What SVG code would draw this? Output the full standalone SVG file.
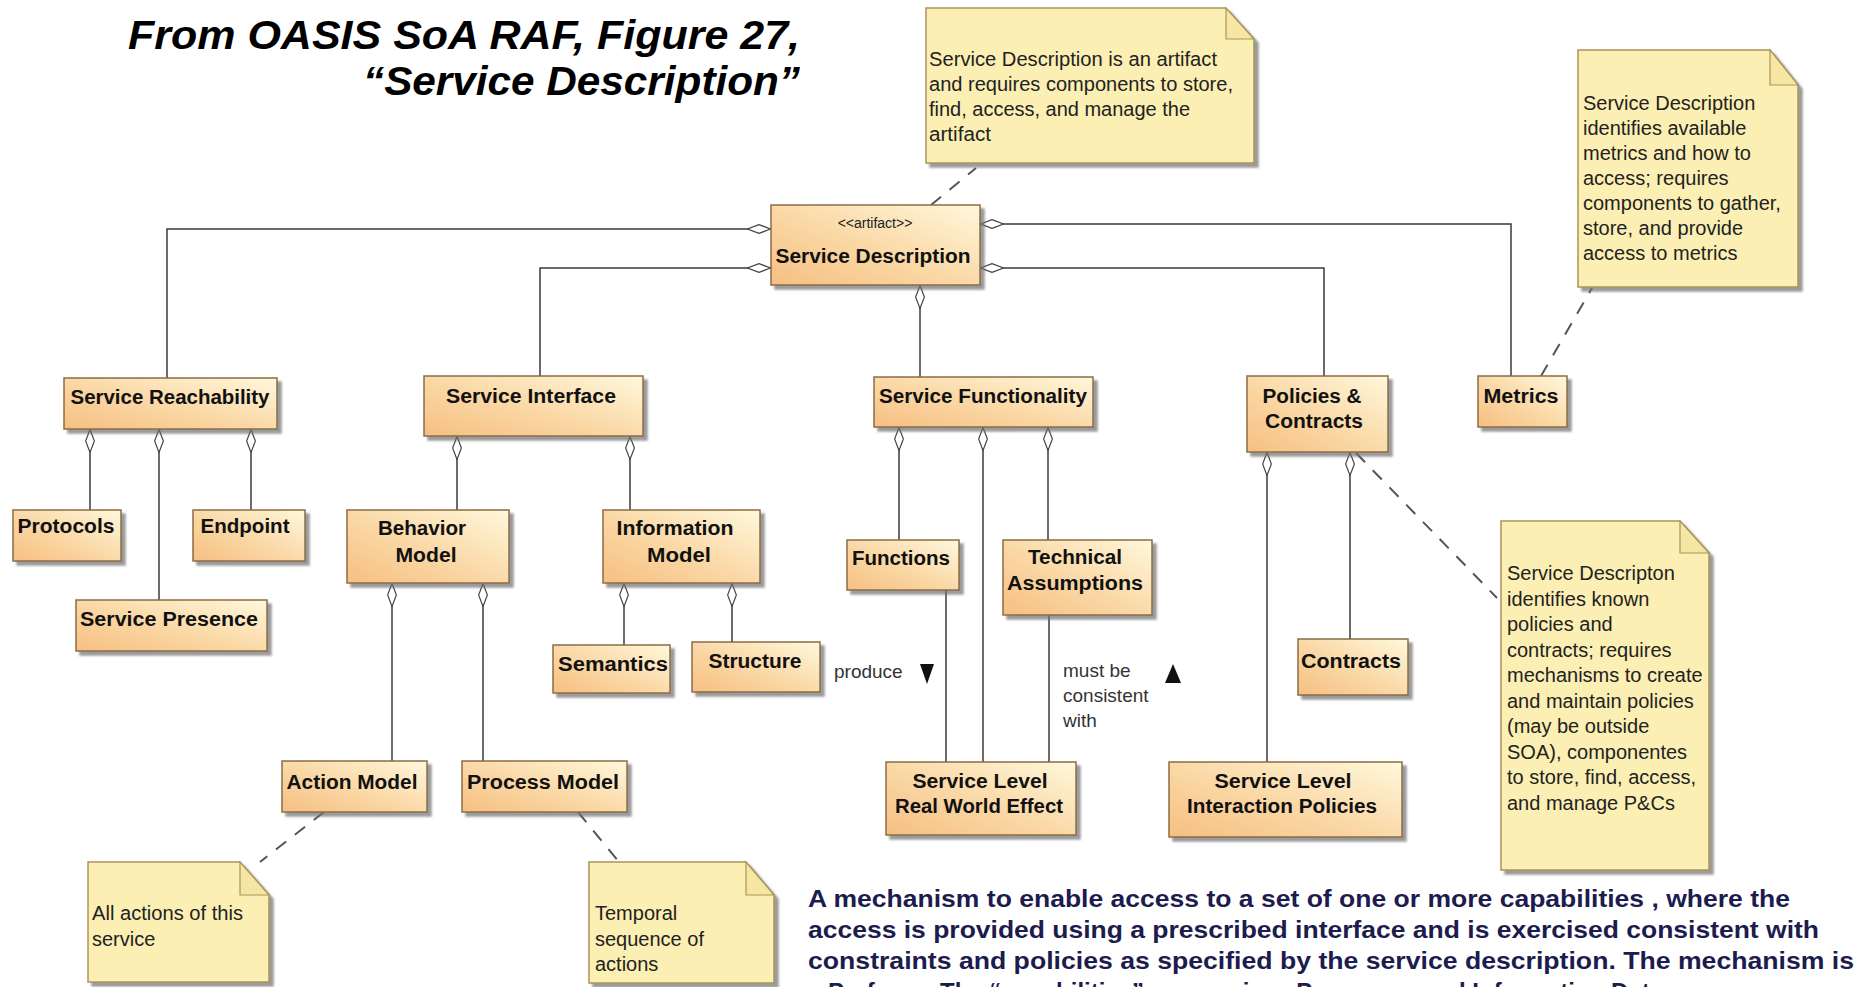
<svg xmlns="http://www.w3.org/2000/svg" width="1866" height="987" viewBox="0 0 1866 987">
  <style>
    .box { fill: url(#boxFill); stroke: #8a6c45; stroke-width: 1.5; filter: url(#shadow); }
    .note { fill: #fcefb3; stroke: #a8955a; stroke-width: 1.5; filter: url(#shadow); }
    .fold { fill: #f6e6a4; stroke: #a8955a; stroke-width: 1.2; }
    .lbl { font-family: "Liberation Sans", Arial, sans-serif; font-weight: bold; font-size: 20px; fill: #111; text-anchor: middle; }
    .stereo { font-family: "Liberation Sans", Arial, sans-serif; font-size: 14px; fill: #222; text-anchor: middle; }
    .ntxt { font-family: "Liberation Sans", Arial, sans-serif; font-size: 20px; fill: #222; }
    .rel { font-family: "Liberation Sans", Arial, sans-serif; font-size: 19px; fill: #333; }
    .title { font-family: "Liberation Sans", Arial, sans-serif; font-weight: bold; font-style: italic; font-size: 41px; fill: #000; text-anchor: end; }
    .para { font-family: "Liberation Sans", Arial, sans-serif; font-weight: bold; font-size: 24px; fill: #1c1c4e; }
    .link { fill: none; stroke: #3a3a3a; stroke-width: 1.5; }
    .agg { marker-start: url(#diamond); }
    .anchor { fill: none; stroke: #555; stroke-width: 2; stroke-dasharray: 13 11; }
  </style>
  <defs>
    <linearGradient id="boxFill" x1="0" y1="1" x2="1" y2="0">
      <stop offset="0" stop-color="#f6bf82"/>
      <stop offset="0.45" stop-color="#fad7a4"/>
      <stop offset="1" stop-color="#fff8dc"/>
    </linearGradient>
    <filter id="shadow" x="-10%" y="-10%" width="130%" height="140%">
      <feDropShadow dx="4" dy="4" stdDeviation="1.2" flood-color="#6f6f6f" flood-opacity="0.7"/>
    </filter>
    <marker id="diamond" viewBox="0 0 24 10" refX="0" refY="5" markerWidth="24" markerHeight="10" markerUnits="userSpaceOnUse" orient="auto">
      <path d="M0.5,5 L12,0.6 L23.5,5 L12,9.4 Z" fill="#ffffff" stroke="#444" stroke-width="1.2"/>
    </marker>
  </defs>

  <rect width="1866" height="987" fill="#ffffff"/>

  <!-- heading -->
  <g id="title">
    <text class="title" x="800" y="49" textLength="672" lengthAdjust="spacingAndGlyphs">From OASIS SoA RAF, Figure 27,</text>
    <text class="title" x="800" y="95" textLength="437" lengthAdjust="spacingAndGlyphs">“Service Description”</text>
  </g>

  <!-- connectors: aggregation lines carry a hollow diamond at the owning end -->
  <g id="connectors">
    <path class="link agg" d="M771,229 H167 V378"/>
    <path class="link agg" d="M771,268 H540 V376"/>
    <path class="link agg" d="M920,285 V377"/>
    <path class="link agg" d="M980,268 H1324 V376"/>
    <path class="link agg" d="M980,224 H1511 V376"/>

    <path class="link agg" d="M90,429 V510"/>
    <path class="link agg" d="M159,429 V600"/>
    <path class="link agg" d="M251,429 V510"/>

    <path class="link agg" d="M457,436 V510"/>
    <path class="link agg" d="M630,436 V510"/>
    <path class="link agg" d="M392,583 V761"/>
    <path class="link agg" d="M483,583 V761"/>
    <path class="link agg" d="M624,583 V645"/>
    <path class="link agg" d="M732,583 V642"/>

    <path class="link agg" d="M899,427 V540"/>
    <path class="link agg" d="M983,427 V762"/>
    <path class="link agg" d="M1048,427 V540"/>
    <path class="link" d="M946,590 V762"/>
    <path class="link" d="M1049,615 V762"/>

    <path class="link agg" d="M1267,452 V762"/>
    <path class="link agg" d="M1350,452 V639"/>

    <!-- note anchors -->
    <path class="anchor" d="M931,205 L976,168"/>
    <path class="anchor" d="M1541,376 L1592,288"/>
    <path class="anchor" d="M1356,453 L1497,598"/>
    <path class="anchor" d="M324,812 L260,862"/>
    <path class="anchor" d="M578,812 L619,862"/>

    <!-- association labels -->
    <text class="rel" x="834" y="678">produce</text>
    <path d="M920,664 H934 L927,684 Z" fill="#111"/>
    <text class="rel" x="1063" y="677">must be</text>
    <text class="rel" x="1063" y="702">consistent</text>
    <text class="rel" x="1063" y="727">with</text>
    <path d="M1173,664 L1181,683 H1165 Z" fill="#111"/>
  </g>

  <!-- classes -->
  <g id="service-description">
    <rect class="box" x="771" y="205" width="209" height="80"/>
    <text class="stereo" x="875" y="228">&lt;&lt;artifact&gt;&gt;</text>
    <text class="lbl" x="873" y="263" textLength="195" lengthAdjust="spacingAndGlyphs">Service Description</text>
  </g>

  <g id="service-reachability">
    <rect class="box" x="64" y="378" width="213" height="51"/>
    <text class="lbl" x="170" y="404" textLength="199" lengthAdjust="spacingAndGlyphs">Service Reachability</text>
  </g>
  <g id="protocols">
    <rect class="box" x="13" y="510" width="108" height="51"/>
    <text class="lbl" x="66" y="533" textLength="97" lengthAdjust="spacingAndGlyphs">Protocols</text>
  </g>
  <g id="endpoint">
    <rect class="box" x="193" y="510" width="112" height="51"/>
    <text class="lbl" x="245" y="533" textLength="89" lengthAdjust="spacingAndGlyphs">Endpoint</text>
  </g>
  <g id="service-presence">
    <rect class="box" x="76" y="600" width="191" height="51"/>
    <text class="lbl" x="169" y="626" textLength="178" lengthAdjust="spacingAndGlyphs">Service Presence</text>
  </g>

  <g id="service-interface">
    <rect class="box" x="424" y="376" width="219" height="60"/>
    <text class="lbl" x="531" y="403" textLength="170" lengthAdjust="spacingAndGlyphs">Service Interface</text>
  </g>
  <g id="behavior-model">
    <rect class="box" x="347" y="510" width="162" height="73"/>
    <text class="lbl" x="422" y="535" textLength="88" lengthAdjust="spacingAndGlyphs">Behavior</text>
    <text class="lbl" x="426" y="562" textLength="61" lengthAdjust="spacingAndGlyphs">Model</text>
  </g>
  <g id="information-model">
    <rect class="box" x="603" y="510" width="157" height="73"/>
    <text class="lbl" x="675" y="535" textLength="117" lengthAdjust="spacingAndGlyphs">Information</text>
    <text class="lbl" x="679" y="562" textLength="64" lengthAdjust="spacingAndGlyphs">Model</text>
  </g>
  <g id="semantics">
    <rect class="box" x="553" y="645" width="117" height="48"/>
    <text class="lbl" x="613" y="671" textLength="110" lengthAdjust="spacingAndGlyphs">Semantics</text>
  </g>
  <g id="structure">
    <rect class="box" x="692" y="642" width="128" height="50"/>
    <text class="lbl" x="755" y="668" textLength="93" lengthAdjust="spacingAndGlyphs">Structure</text>
  </g>
  <g id="action-model">
    <rect class="box" x="282" y="761" width="145" height="51"/>
    <text class="lbl" x="352" y="789" textLength="131" lengthAdjust="spacingAndGlyphs">Action Model</text>
  </g>
  <g id="process-model">
    <rect class="box" x="462" y="761" width="165" height="51"/>
    <text class="lbl" x="543" y="789" textLength="152" lengthAdjust="spacingAndGlyphs">Process Model</text>
  </g>

  <g id="service-functionality">
    <rect class="box" x="874" y="377" width="219" height="50"/>
    <text class="lbl" x="983" y="403" textLength="208" lengthAdjust="spacingAndGlyphs">Service Functionality</text>
  </g>
  <g id="functions">
    <rect class="box" x="847" y="540" width="112" height="50"/>
    <text class="lbl" x="901" y="565" textLength="98" lengthAdjust="spacingAndGlyphs">Functions</text>
  </g>
  <g id="technical-assumptions">
    <rect class="box" x="1003" y="540" width="149" height="75"/>
    <text class="lbl" x="1075" y="564" textLength="94" lengthAdjust="spacingAndGlyphs">Technical</text>
    <text class="lbl" x="1075" y="590" textLength="136" lengthAdjust="spacingAndGlyphs">Assumptions</text>
  </g>
  <g id="service-level-rwe">
    <rect class="box" x="886" y="762" width="190" height="73"/>
    <text class="lbl" x="980" y="788" textLength="135" lengthAdjust="spacingAndGlyphs">Service Level</text>
    <text class="lbl" x="979" y="813" textLength="168" lengthAdjust="spacingAndGlyphs">Real World Effect</text>
  </g>

  <g id="policies-contracts">
    <rect class="box" x="1247" y="376" width="141" height="76"/>
    <text class="lbl" x="1312" y="403" textLength="99" lengthAdjust="spacingAndGlyphs">Policies &amp;</text>
    <text class="lbl" x="1314" y="428" textLength="98" lengthAdjust="spacingAndGlyphs">Contracts</text>
  </g>
  <g id="contracts">
    <rect class="box" x="1298" y="639" width="110" height="56"/>
    <text class="lbl" x="1351" y="668" textLength="100" lengthAdjust="spacingAndGlyphs">Contracts</text>
  </g>
  <g id="service-level-ip">
    <rect class="box" x="1169" y="762" width="233" height="75"/>
    <text class="lbl" x="1283" y="788" textLength="137" lengthAdjust="spacingAndGlyphs">Service Level</text>
    <text class="lbl" x="1282" y="813" textLength="190" lengthAdjust="spacingAndGlyphs">Interaction Policies</text>
  </g>
  <g id="metrics">
    <rect class="box" x="1478" y="376" width="89" height="51"/>
    <text class="lbl" x="1521" y="403" textLength="75" lengthAdjust="spacingAndGlyphs">Metrics</text>
  </g>

  <!-- comment notes -->
  <g id="note-artifact">
    <path class="note" d="M926,8 H1226 L1254,39 V163 H926 Z"/>
    <path class="fold" d="M1226,8 V39 H1254 Z"/>
    <text class="ntxt" x="929" y="66" textLength="288" lengthAdjust="spacingAndGlyphs">Service Description is an artifact</text>
    <text class="ntxt" x="929" y="91" textLength="304" lengthAdjust="spacingAndGlyphs">and requires components to store,</text>
    <text class="ntxt" x="929" y="116" textLength="261" lengthAdjust="spacingAndGlyphs">find, access, and manage the</text>
    <text class="ntxt" x="929" y="141" textLength="62" lengthAdjust="spacingAndGlyphs">artifact</text>
  </g>

  <g id="note-metrics">
    <path class="note" d="M1578,50 H1770 L1798,85 V287 H1578 Z"/>
    <path class="fold" d="M1770,50 V85 H1798 Z"/>
    <text class="ntxt" x="1583" y="110">Service Description</text>
    <text class="ntxt" x="1583" y="135">identifies available</text>
    <text class="ntxt" x="1583" y="160">metrics and how to</text>
    <text class="ntxt" x="1583" y="185">access; requires</text>
    <text class="ntxt" x="1583" y="210">components to gather,</text>
    <text class="ntxt" x="1583" y="235">store, and provide</text>
    <text class="ntxt" x="1583" y="260">access to metrics</text>
  </g>

  <g id="note-policies">
    <path class="note" d="M1501,521 H1680 L1709,553 V870 H1501 Z"/>
    <path class="fold" d="M1680,521 V553 H1709 Z"/>
    <text class="ntxt" x="1507" y="580">Service Descripton</text>
    <text class="ntxt" x="1507" y="605.5">identifies known</text>
    <text class="ntxt" x="1507" y="631">policies and</text>
    <text class="ntxt" x="1507" y="656.5">contracts; requires</text>
    <text class="ntxt" x="1507" y="682">mechanisms to create</text>
    <text class="ntxt" x="1507" y="707.5">and maintain policies</text>
    <text class="ntxt" x="1507" y="733">(may be outside</text>
    <text class="ntxt" x="1507" y="758.5">SOA), componentes</text>
    <text class="ntxt" x="1507" y="784">to store, find, access,</text>
    <text class="ntxt" x="1507" y="809.5">and manage P&amp;Cs</text>
  </g>

  <g id="note-actions">
    <path class="note" d="M88,862 H240 L269,895 V982 H88 Z"/>
    <path class="fold" d="M240,862 V895 H269 Z"/>
    <text class="ntxt" x="92" y="920" textLength="151" lengthAdjust="spacingAndGlyphs">All actions of this</text>
    <text class="ntxt" x="92" y="946">service</text>
  </g>

  <g id="note-temporal">
    <path class="note" d="M589,862 H746 L774,895 V983 H589 Z"/>
    <path class="fold" d="M746,862 V895 H774 Z"/>
    <text class="ntxt" x="595" y="920">Temporal</text>
    <text class="ntxt" x="595" y="946">sequence of</text>
    <text class="ntxt" x="595" y="971">actions</text>
  </g>

  <!-- definition text -->
  <g id="definition">
    <text class="para" x="808" y="907" textLength="982" lengthAdjust="spacingAndGlyphs">A mechanism to enable access to a set of one or more capabilities , where the</text>
    <text class="para" x="808" y="938" textLength="1011" lengthAdjust="spacingAndGlyphs">access is provided using a prescribed interface and is exercised consistent with</text>
    <text class="para" x="808" y="969" textLength="1046" lengthAdjust="spacingAndGlyphs">constraints and policies as specified by the service description.  The mechanism is</text>
    <text class="para" x="808" y="1000">– Performs  The “capabilities” are services  Processes and Information  Data</text>
  </g>
</svg>
